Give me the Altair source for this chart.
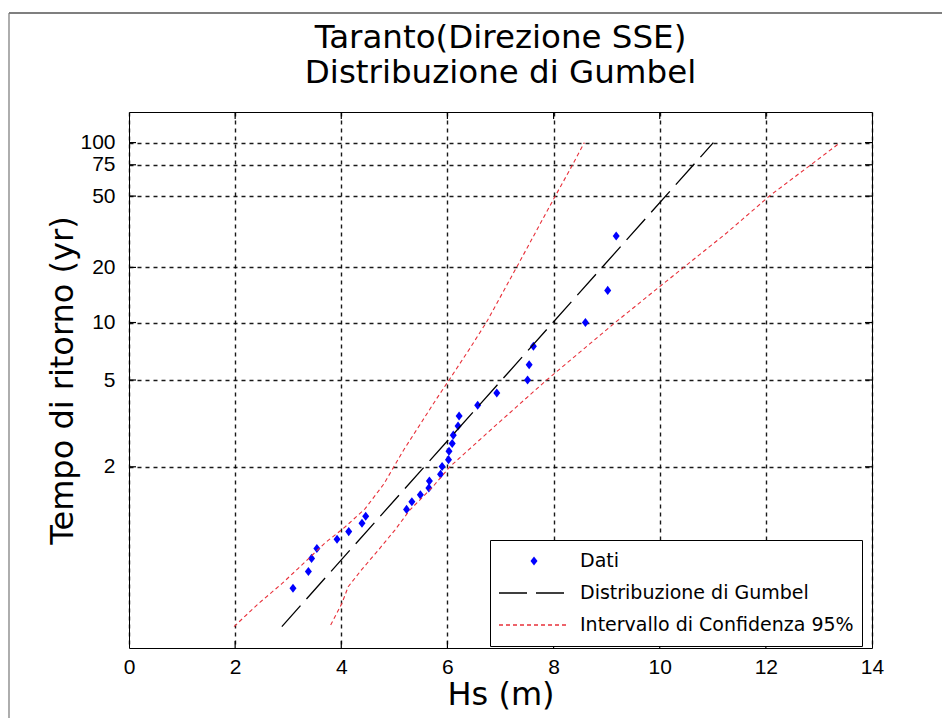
import math
import altair as alt
import pandas as pd

# ---- data ----
# observed Hs (m) and their Gumbel reduced variate position
hs_dati = [3.09, 3.38, 3.44, 3.54, 3.92, 4.14, 4.39, 4.46, 5.23, 5.33, 5.49, 5.65, 5.66,
           5.87, 5.90, 6.02, 6.03, 6.09, 6.11, 6.20, 6.22, 6.57, 6.93, 7.51, 7.54, 7.62,
           8.60, 9.02, 9.18]
y_dati = [-1.22, -1.00, -0.83, -0.70, -0.58, -0.48, -0.37, -0.28, -0.19, -0.09, 0.00,
          0.09, 0.18, 0.27, 0.37, 0.46, 0.57, 0.67, 0.78, 0.90, 1.03, 1.17, 1.33, 1.50,
          1.70, 1.94, 2.25, 2.67, 3.38]

# fitted Gumbel distribution (straight line)
fit_hs = [2.88, 11.01]
fit_y = [-1.72, 4.60]

# 95% confidence interval, left (upper) branch
ci_sup_hs = [1.98, 2.44, 2.88, 3.19, 3.69, 4.07, 4.45, 4.80, 5.17, 5.80, 6.05, 6.43,
             6.74, 7.31, 7.74, 8.03, 8.31, 8.58]
ci_sup_y = [-1.72, -1.42, -1.16, -0.96, -0.63, -0.42, -0.18, 0.14, 0.58, 1.26, 1.52,
            1.92, 2.26, 2.98, 3.53, 3.90, 4.25, 4.60]

# 95% confidence interval, right (lower) branch
ci_inf_hs = [3.80, 4.01, 4.13, 4.38, 4.70, 5.01, 5.29, 5.73, 6.05, 6.93, 7.87, 9.16,
             10.00, 10.45, 11.26, 12.08, 12.77, 13.40]
ci_inf_y = [-1.70, -1.42, -1.20, -0.98, -0.72, -0.46, -0.20, 0.11, 0.37, 0.92, 1.50,
            2.25, 2.72, 2.97, 3.42, 3.91, 4.27, 4.60]

x_ticks = [0, 2, 4, 6, 8, 10, 12, 14]
T_ticks = [2, 5, 10, 20, 50, 75, 100]  # return periods (yr)

SERIES = ["Dati", "Distribuzione di Gumbel", "Intervallo di Confidenza 95%"]
BLUE, BLACK, RED = "#0000ff", "#000000", "#e8303a"

# Gumbel reduced variate of each return period tick
y_ticks = [-math.log(-math.log(1 - 1 / t)) for t in T_ticks]

W, H = 743, 536
PAD_B = 70
DIAMOND = "M0,-0.13L0.1,0L0,0.13L-0.1,0Z"
LINE = "M-1,0H1"
FONT = "DejaVu Sans"
TICKFONT = "'Liberation Sans Narrow', 'Arial Narrow', 'Liberation Sans', sans-serif"

df_dati = pd.DataFrame({"hs": hs_dati, "y": y_dati, "serie": SERIES[0]})
df_fit = pd.DataFrame({"hs": fit_hs, "y": fit_y, "serie": SERIES[1]})
df_ci = pd.concat([
    pd.DataFrame({"hs": ci_sup_hs, "y": ci_sup_y, "bound": "sup",
                  "ord": list(range(len(ci_sup_hs)))}),
    pd.DataFrame({"hs": ci_inf_hs, "y": ci_inf_y, "bound": "inf",
                  "ord": list(range(len(ci_inf_hs)))}),
], ignore_index=True)
df_ci["serie"] = SERIES[2]

x_scale = alt.Scale(domain=[0, 14], nice=False, zero=False)
y_scale = alt.Scale(domain=[-2, 5], nice=False, zero=False)
fill_scale = alt.Scale(domain=SERIES, range=[BLUE, "transparent", "transparent"])
stroke_scale = alt.Scale(domain=SERIES, range=["transparent", BLACK, RED])
shape_scale = alt.Scale(domain=SERIES, range=[DIAMOND, LINE, LINE])
dash_scale = alt.Scale(domain=SERIES, range=[[1, 0], [28, 9], [4, 3]])

x_axis = alt.Axis(values=x_ticks, title="Hs (m)", format="d", labelFlush=False)
y_axis = alt.Axis(
    values=y_ticks,
    title="Tempo di ritorno (yr)",
    labelExpr="format(round(1/(1-exp(-exp(-datum.value)))), 'd')",
    titleX=-50,
    titleY=H / 2,
)

legend = alt.Legend(
    title=None,
    orient="none",
    legendX=361,
    legendY=428,
    direction="vertical",
    fillColor="#ffffff",
    strokeColor="#000000",
    padding=8,
    symbolSize=4900,
    symbolStrokeWidth=1.3,
    symbolOpacity=1,
    labelFont=FONT,
    labelFontSize=19,
    labelColor="#000000",
    labelOffset=10,
    rowPadding=6,
    clipHeight=26,
    labelLimit=400,
)

X = alt.X("hs:Q", scale=x_scale, axis=x_axis)
Y = alt.Y("y:Q", scale=y_scale, axis=y_axis)

pts = alt.Chart(df_dati).mark_point(
    size=4900, filled=True, opacity=1, strokeWidth=0
).encode(
    x=X, y=Y,
    fill=alt.Fill("serie:N", scale=fill_scale, legend=legend),
    shape=alt.Shape("serie:N", scale=shape_scale, legend=legend),
)

fit = alt.Chart(df_fit).mark_line(strokeWidth=1.3).encode(
    x=X, y=Y,
    stroke=alt.Stroke("serie:N", scale=stroke_scale, legend=legend),
    strokeDash=alt.StrokeDash("serie:N", scale=dash_scale, legend=legend),
)

ci = alt.Chart(df_ci).mark_line(strokeWidth=1.1).encode(
    x=X, y=Y,
    stroke=alt.Stroke("serie:N", scale=stroke_scale, legend=legend),
    strokeDash=alt.StrokeDash("serie:N", scale=dash_scale, legend=legend),
    detail="bound:N",
    order="ord:Q",
)

# inward ticks on all four sides (MATLAB style)
df_xt = pd.DataFrame({"hs": x_ticks[1:-1]})
df_yt = pd.DataFrame({"y": y_ticks})
tick_style = dict(color="#000000", strokeWidth=1.2)
ticks_bottom = alt.Chart(df_xt).mark_rule(**tick_style).encode(
    x=X, y=alt.value(H), y2=alt.value(H - 7))
ticks_top = alt.Chart(df_xt).mark_rule(**tick_style).encode(
    x=X, y=alt.value(0), y2=alt.value(7))
ticks_left = alt.Chart(df_yt).mark_rule(**tick_style).encode(
    y=Y, x=alt.value(0), x2=alt.value(7))
ticks_right = alt.Chart(df_yt).mark_rule(**tick_style).encode(
    y=Y, x=alt.value(W), x2=alt.value(W - 7))

# figure window edge
df_one = pd.DataFrame({"k": [0]})
edge_top = alt.Chart(df_one).mark_rule(color="#555555", strokeWidth=1.5).encode(
    x=alt.value(-120), x2=alt.value(813), y=alt.value(-99))
edge_left = alt.Chart(df_one).mark_rule(color="#777777", strokeWidth=1.2).encode(
    x=alt.value(-120), y=alt.value(-99), y2=alt.value(H + PAD_B))

chart = alt.layer(
    pts, fit, ci, ticks_bottom, ticks_top, ticks_left, ticks_right, edge_top, edge_left
).properties(
    width=W,
    height=H,
    autosize=alt.AutoSizeParams(type="none"),
    padding={"left": 121, "top": 104, "right": 70, "bottom": PAD_B},
    title=alt.Title(
        text=["Taranto(Direzione SSE)", "Distribuzione di Gumbel"],
        font=FONT,
        fontSize=32.5,
        fontWeight="normal",
        color="#000000",
        lineHeight=35,
        offset=-77,
        frame="group",
        anchor="middle",
    ),
).configure(
    background="#ffffff"
).configure_view(
    stroke="#000000", strokeWidth=1
).configure_axis(
    domain=False,
    ticks=False,
    grid=True,
    gridColor="#000000",
    gridDash=[4, 4],
    gridWidth=1.4,
    gridOpacity=0.9,
    labelFont=TICKFONT,
    labelFontSize=21,
    labelColor="#000000",
    labelOverlap=False,
    labelBound=False,
    titleFont=FONT,
    titleFontSize=32,
    titleFontWeight="normal",
    titleColor="#000000",
).configure_axisX(
    labelPadding=8, titlePadding=2
).configure_axisY(
    labelPadding=14
)

chart.save("out.html", embed_options={"renderer": "svg", "actions": False})
